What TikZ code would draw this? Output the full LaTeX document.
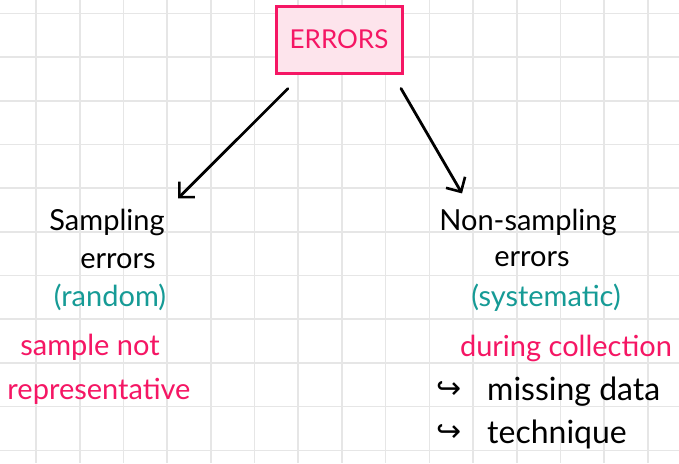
\documentclass[tikz,border=0pt]{standalone}
\usepackage{fontspec}
\setmainfont{Lato}
\newfontfamily\symfont{DejaVu Sans}
\usetikzlibrary{arrows.meta}
\definecolor{hotpink}{RGB}{245,22,100}
\definecolor{boxfill}{RGB}{253,228,236}
\definecolor{tealc}{RGB}{22,155,150}
\definecolor{gridc}{RGB}{230,230,230}
\tikzset{
  gridline/.style={draw=gridc,line width=1.6pt},
  hand/.style={anchor=base,inner sep=0pt,font=\fontsize{29}{30}\selectfont},
  blacktxt/.style={hand,text=black},
  tealtxt/.style={hand,text=tealc},
  pinktxt/.style={hand,text=hotpink},
  listtxt/.style={blacktxt,anchor=base west,font=\fontsize{32}{33}\selectfont},
  hook/.style={anchor=base west,inner sep=0pt,text=black,font=\symfont\fontsize{30}{31}\selectfont},
  arr/.style={draw=black,line width=2.8pt,line cap=round,
    -{Straight Barb[length=11pt,width=22pt,line width=2.6pt]}},
  titlebox/.style={draw=hotpink,fill=boxfill,line width=3pt,minimum width=126pt,
    minimum height=67pt,inner sep=0pt,text=hotpink,font=\fontsize{26}{27}\selectfont}
}
\begin{document}
\begin{tikzpicture}[x=1pt,y=-1pt]
\useasboundingbox (0,0) rectangle (679,463);
\fill[white] (0,0) rectangle (679,463);
\foreach \k in {0,...,14} \draw[gridline] ({36+43.7*\k},0) -- ({36+43.7*\k},463);
\foreach \k in {0,...,10} \draw[gridline] (0,{13.3+43.7*\k}) -- (679,{13.3+43.7*\k});

\node[titlebox] (errors) at (339,39.5) {ERRORS};

\node[blacktxt] (samp) at (107,230) {Sampling};
\node[blacktxt] (samperr) at (118,268) {errors};
\node[tealtxt] (random) at (110,306) {(random)};
\node[pinktxt] (notrep1) at (90,355) {sample not};
\node[pinktxt] (notrep2) at (99,399) {representative};

\node[blacktxt] (nonsamp) at (528,230) {Non-sampling};
\node[blacktxt] (nonerr) at (532,266) {errors};
\node[tealtxt] (syst) at (546,306) {(systematic)};
\node[pinktxt] (during) at (566,356) {during collection};
\node[hook] (hook1) at (436,398) {↪};
\node[listtxt] (missing) at (487,400) {missing data};
\node[hook] (hook2) at (436,441) {↪};
\node[listtxt] (technique) at (487,443) {technique};

\draw[arr] ([xshift=-51pt,yshift=-14pt]errors.south) -- ([xshift=71pt,yshift=10pt]samp.north);
\draw[arr] ([xshift=62pt,yshift=-14pt]errors.south) -- ([xshift=-66pt,yshift=15pt]nonsamp.north);
\end{tikzpicture}
\end{document}
